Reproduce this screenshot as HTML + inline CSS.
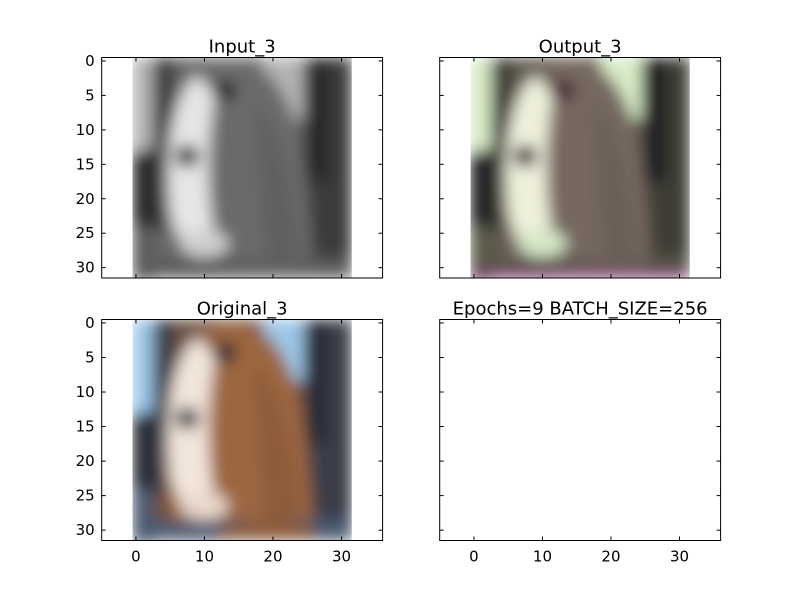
<!DOCTYPE html>
<html><head><meta charset="utf-8"><style>
body{margin:0;background:#fff}
svg text{font-family:"DejaVu Sans","Liberation Sans",sans-serif}
</style></head><body>
<svg id="fig" width="800" height="600" xmlns="http://www.w3.org/2000/svg">
<defs>
<filter id="bl" x="-5%" y="-5%" width="110%" height="110%"><feGaussianBlur stdDeviation="1.1"/></filter>
<clipPath id="ic"><rect x="-0.5" y="-0.5" width="32" height="32"/></clipPath>
</defs>
</svg>
<script>
const xTicks=[0,10,20,30];
const yTicks=[0,5,10,15,20,25,30];
const xLim=[-5,36];
const yLim=[31.5,-0.5];
const titles=["Input_3","Output_3","Original_3","Epochs=9 BATCH_SIZE=256"];
const axesBox=[[101.7,57.5,382.6,278],[439.7,57.5,720.6,278],[101.7,319.5,382.6,540.5],[439.7,319.5,720.6,540.5]];
const palettes=[
 {bg:"#686868",sky:"#b4b4b4",dark:"#252525",dark2:"#3a3a3a",fur:"#6a6a6a",fur2:"#606060",blaze:"#e6e6e6",eye:"#202020",bottom:"#5c5c5c",muzzle:"#d0d0d0"},
 {bg:"#5e5a50",sky:"#d8ecc8",dark:"#1a1e22",dark2:"#3c3e34",fur:"#76685e",fur2:"#6a6058",blaze:"#eef0dc",eye:"#3a1e30",bottom:"#585a48",muzzle:"#d6e8c8"},
 {bg:"#6a5040",sky:"#9cc8e8",dark:"#262a34",dark2:"#3a3e4a",fur:"#9c6640",fur2:"#8c5c3a",blaze:"#f2e6dc",eye:"#2a2a30",bottom:"#4c5c72",muzzle:"#ead8cc"},
 null];
const NS="http://www.w3.org/2000/svg";
const fig=document.getElementById('fig');
function mk(t,a,p){const e=document.createElementNS(NS,t);for(const k in a)e.setAttribute(k,a[k]);(p||fig).appendChild(e);return e;}
function dog(g,c,isOut){
 const r=(x,y,w,h,f)=>mk('rect',{x,y,width:w,height:h,fill:f},g);
 r(-0.5,-0.5,32,32,c.bg);
 r(-0.5,-0.5,3,14,c.sky); r(-0.5,13,3,11,c.dark); r(-0.5,24,3,8,c.bottom);
 r(2.5,-0.5,3,25,c.dark2);
 r(18.5,-0.5,6,9,c.sky);
 r(24.5,-0.5,7,32,c.dark2); r(25,-0.5,3,18,c.dark);
 mk('path',{d:"M5,30 C4,20 4,6 9,2 C12,-1 18,-1 21,4 C25,10 25,20 26,30 Z",fill:c.fur},g);
 mk('path',{d:"M17,6 C21,9 23,17 24,28 L19,30 C18,20 18,12 17,6Z",fill:c.fur2},g);
 mk('path',{d:"M9,2 C5,5 4,14 5,22 C6,27 9,29 12,28 C10.5,22 10,14 11.5,5 Z",fill:c.blaze},g);
 mk('ellipse',{cx:10,cy:26.5,rx:3.5,ry:2,fill:c.muzzle},g);
 r(-0.5,28.5,32,3,c.bottom);
 mk('path',{d:"M12,30 C18,28 22,28 26,30 L26,31.5 L12,31.5Z",fill:c.fur2},g);
 mk('ellipse',{cx:13,cy:4.3,rx:1.7,ry:1.5,fill:c.eye},g);
 mk('ellipse',{cx:7.5,cy:13.8,rx:1.8,ry:1.6,fill:c.eye},g);
 if(isOut){r(-0.5,30.6,32,0.9,"#8a1a7a");}
}
axesBox.forEach((b,i)=>{
 const [x0,y0,x1,y1]=b;
 const sx=v=>x0+(v-xLim[0])/(xLim[1]-xLim[0])*(x1-x0);
 const sy=v=>y0+(v-yLim[1])/(yLim[0]-yLim[1])*(y1-y0);
 const ax=mk('g',{});
 
 
 if(palettes[i]){
  const im=mk('svg',{x:sx(-0.5),y:sy(-0.5),width:sx(31.5)-sx(-0.5),height:sy(31.5)-sy(-0.5),viewBox:"-0.5 -0.5 32 32",preserveAspectRatio:"none"},ax);
  
  
  const g=mk('g',{filter:"url(#bl)","clip-path":"url(#ic)"},im);
  dog(g,palettes[i],i===1);
 }
 const fr=mk('rect',{x:x0,y:y0,width:x1-x0,height:y1-y0,fill:"none",stroke:"#000","stroke-width":1},ax);
 
 
 xTicks.forEach(t=>{
  const x=sx(t);
  mk('line',{x1:x,x2:x,y1:y1,y2:y1-4,stroke:"#000"},ax);
  mk('line',{x1:x,x2:x,y1:y0,y2:y0+4,stroke:"#000"},ax);
  if(i>=2){const tx=mk('text',{x:x,y:y1+21,"font-size":15,"text-anchor":"middle"},ax);tx.textContent=t;
   
   }
 });
 yTicks.forEach(t=>{
  const y=sy(t);
  mk('line',{x1:x0,x2:x0+4,y1:y,y2:y,stroke:"#000"},ax);
  mk('line',{x1:x1,x2:x1-4,y1:y,y2:y,stroke:"#000"},ax);
  if(i%2===0){const tx=mk('text',{x:x0-7,y:y+5,"font-size":15,"text-anchor":"end"},ax);tx.textContent=t;
   
   }
 });
 const tt=mk('text',{x:(x0+x1)/2,y:y0-5,"font-size":18,"text-anchor":"middle"},ax);
 tt.textContent=titles[i];
 
 
});
</script>
</body></html>
